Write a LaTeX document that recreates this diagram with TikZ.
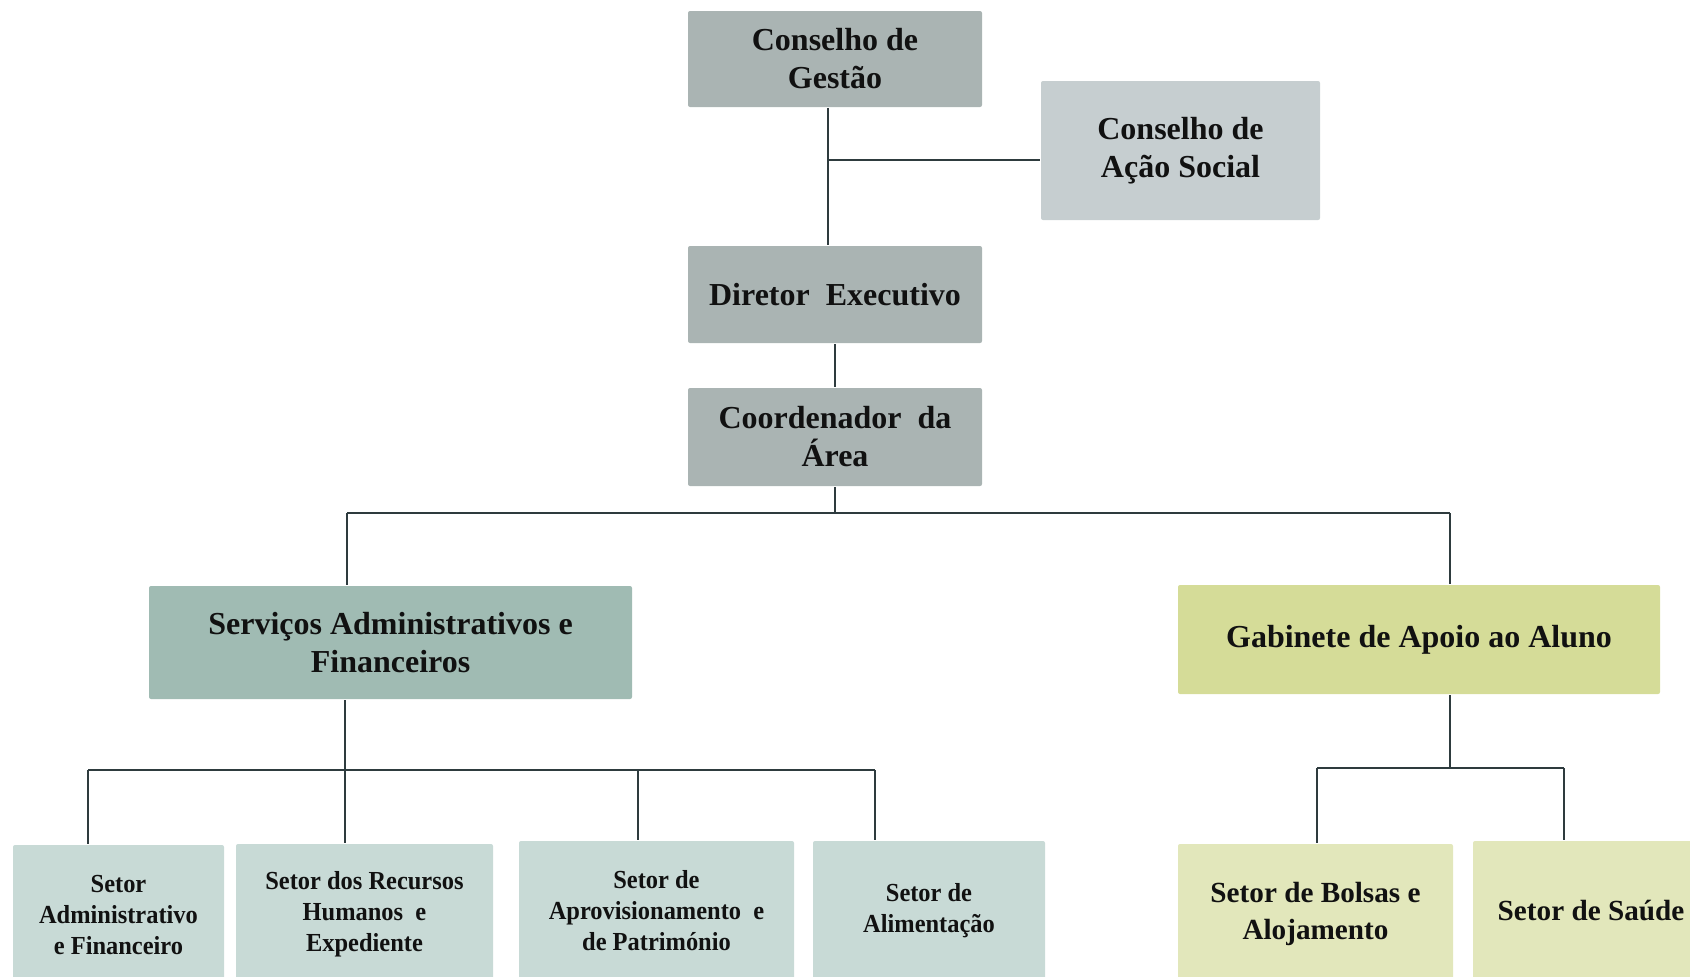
\documentclass[tikz,border=0pt]{standalone}
\usepackage{fontspec}
\setmainfont{Liberation Serif}
\newfontfamily\narrowserif[FakeStretch=0.94]{Liberation Serif}
\definecolor{topgray}{HTML}{AAB4B3}
\definecolor{sidegray}{HTML}{C6CED0}
\definecolor{srvgreen}{HTML}{A0BBB3}
\definecolor{gabyellow}{HTML}{D5DC98}
\definecolor{lowgreen}{HTML}{C8DAD6}
\definecolor{lowyellow}{HTML}{E2E7BB}
\definecolor{linkcol}{HTML}{2E3B3E}
\definecolor{txtcol}{HTML}{111111}
\tikzset{every picture/.style={line width=1.25pt}}

\begin{document}
\begin{tikzpicture}[x=0.5pt,y=0.5pt,yscale=-1,xscale=1,
  box/.style={rounded corners=1pt, inner sep=0pt, align=center, text=txtcol,
    font=\bfseries\fontsize{16}{19}\selectfont},
  lowbox/.style={box, minimum height=70pt, font=\narrowserif\bfseries\fontsize{13}{15.5}\selectfont},
  link/.style={draw=linkcol}]
\useasboundingbox (0,0) rectangle (1690,976);
\clip (0,0) rectangle (1690,976);

%Shape: top boxes
\node (gestao) at (835,59) [box, fill=topgray, minimum width=147pt, minimum height=48pt] {Conselho de\\Gestão};
\node (acao) at (1180.5,150.5) [box, fill=sidegray, minimum width=139.5pt, minimum height=69.5pt] {Conselho de\\Ação Social};
\node (diretor) at (835,294.5) [box, fill=topgray, minimum width=147pt, minimum height=48.5pt] {Diretor\ \ Executivo};
\node (coord) at (835,437) [box, fill=topgray, minimum width=147pt, minimum height=49pt] {Coordenador\ \ da\\Área};

%Shape: middle boxes
\node (servicos) at (390.5,642.5) [box, fill=srvgreen, minimum width=241.5pt, minimum height=56.5pt] {Serviços Administrativos e\\Financeiros};
\node (gabinete) at (1419,639.5) [box, fill=gabyellow, minimum width=241pt, minimum height=54.5pt] {Gabinete\ de\ Apoio\ ao\ Aluno};

%Shape: bottom boxes
\node (admin) at (118.5,915) [lowbox, fill=lowgreen, minimum width=105.5pt] {Setor\\Administrativo\\e Financeiro};
\node (rh) at (364.5,914) [lowbox, fill=lowgreen, minimum width=128.5pt] {Setor dos Recursos\\Humanos\ \ e\\Expediente};
\node (aprov) at (656.5,911) [lowbox, fill=lowgreen, minimum width=137.5pt] {Setor de\\Aprovisionamento\ \ e\\de Património};
\node (alim) at (929,911) [lowbox, fill=lowgreen, minimum width=116pt] {Setor de\\Alimentação};
\node (bolsas) at (1315.5,914) [lowbox, fill=lowyellow, minimum width=137.5pt, font=\bfseries\fontsize{14.6}{18.3}\selectfont] {Setor de Bolsas e\\Alojamento};
\node (saude) at (1591,911) [lowbox, fill=lowyellow, minimum width=118pt, font=\bfseries\fontsize{14.6}{18.3}\selectfont] {Setor de Saúde};

%Straight Lines: council links
\coordinate (j1) at (828,160);
\draw [link] (gestao.south -| j1) -- (diretor.north -| j1);
\draw [link] (j1) -- (j1 -| acao.west);
\draw [link] (diretor) -- (coord);

%Straight Lines: first level
\coordinate (b1) at (835,513);
\coordinate (b1l) at (347,513);
\coordinate (b1r) at (1450,513);
\draw [link] (coord.south) -- (b1);
\draw [link] (b1l) -- (b1r);
\draw [link] (b1l) -- (b1l |- servicos.north);
\draw [link] (b1r) -- (b1r |- gabinete.north);

%Straight Lines: second level, left
\coordinate (b2) at (345,770);
\draw [link] (servicos.south -| b2) -- (b2);
\draw [link] (88,770) -- (875,770);
\foreach \n/\x in {admin/88, rh/345, aprov/638, alim/875} {
  \coordinate (t) at (\x,770);
  \draw [link] (t) -- (t |- \n.north);
}

%Straight Lines: second level, right
\coordinate (b3) at (1450,768);
\draw [link] (gabinete.south -| b3) -- (b3);
\draw [link] (1317,768) -- (1564,768);
\foreach \n/\x in {bolsas/1317, saude/1564} {
  \coordinate (t) at (\x,768);
  \draw [link] (t) -- (t |- \n.north);
}

\end{tikzpicture}
\end{document}
